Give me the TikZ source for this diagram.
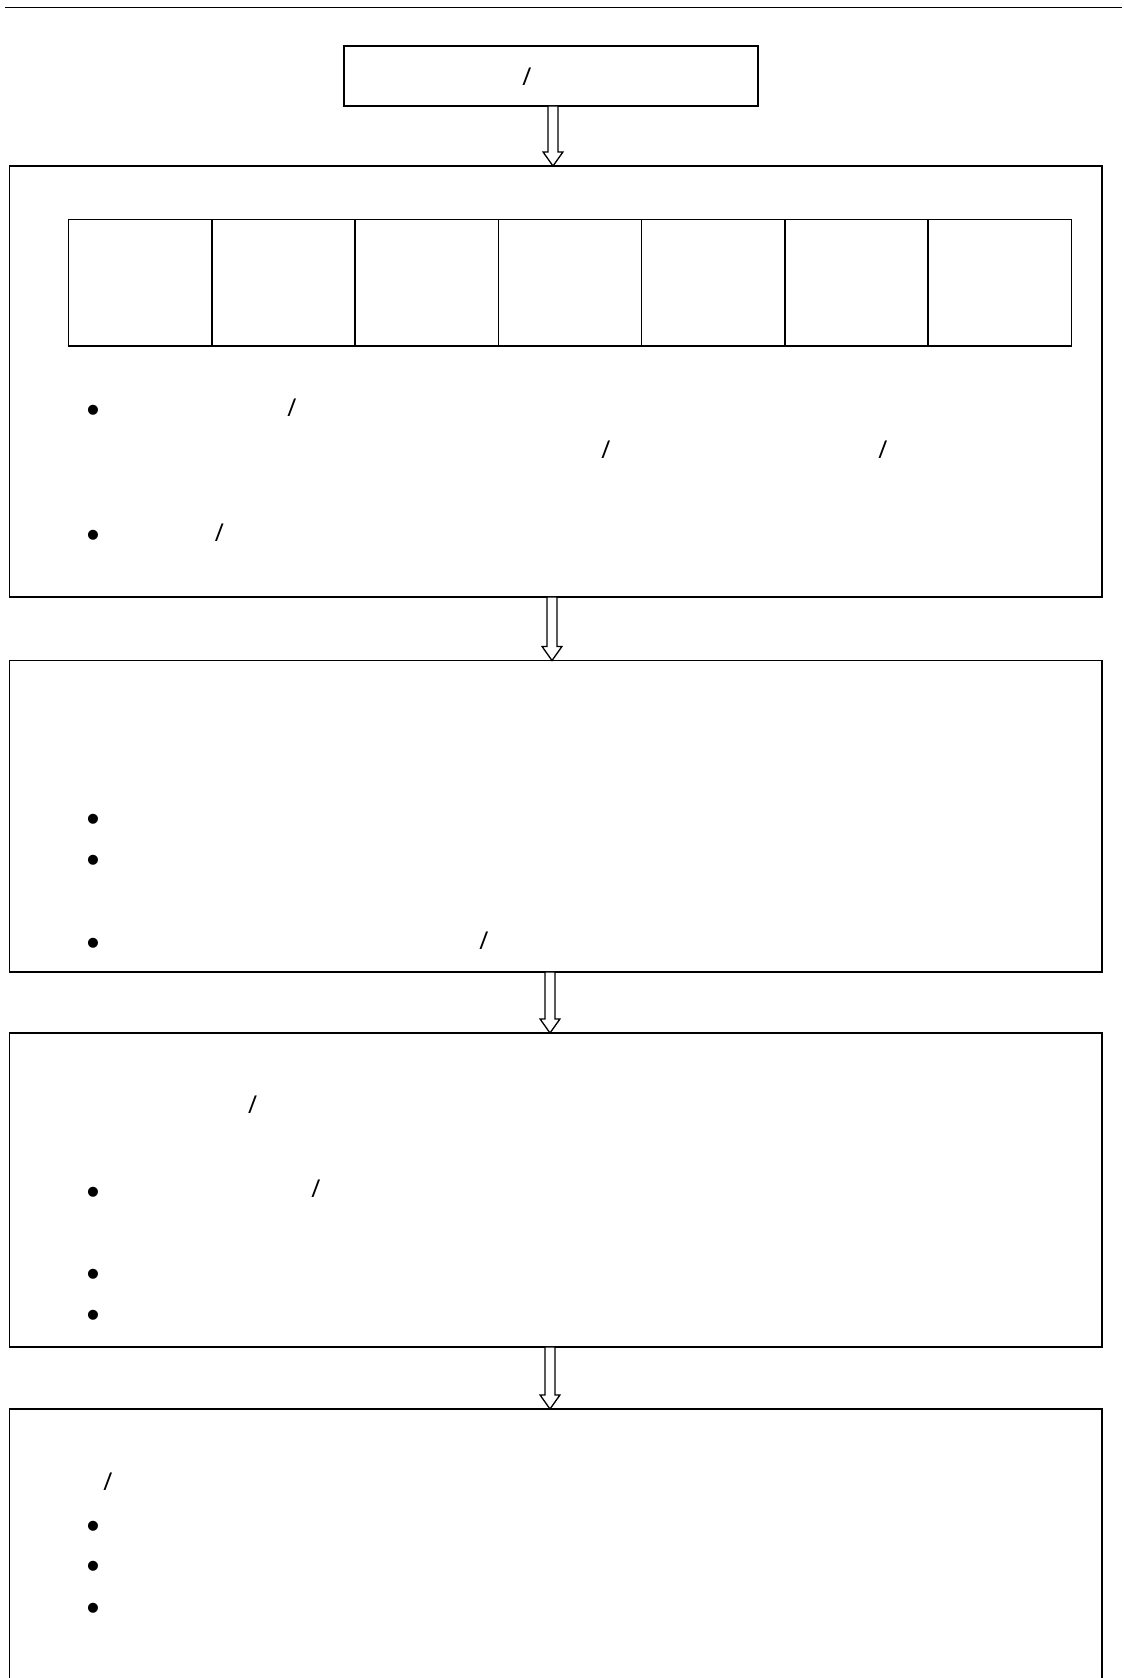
\documentclass[tikz,border=0pt]{standalone}
\usepackage{fontspec}
\setmainfont{Liberation Sans}
\newfontfamily\slashfont{Open Sans}
\usetikzlibrary{positioning,calc}
\tikzset{
  panel/.style={draw=black,line width=.9pt,inner sep=0pt,outer sep=0pt,minimum width=21.85cm},
  cell/.style={draw=black,line width=.9pt,inner sep=0pt,outer sep=0pt,minimum width=2.866cm,minimum height=2.526cm},
  glyph/.style={inner sep=0pt,font=\slashfont\fontsize{14}{16}\selectfont},
  dot/.style={inner sep=0pt,font=\fontsize{21}{22}\selectfont},
  hollow/.style={draw=black,line width=.75pt,fill=white,line join=miter}
}
\newcommand{\hollowarrow}[3]{%
  \draw[hollow] let \p1=(#1,0 |- #2.south), \p2=(#1,0 |- #3.north) in
    (\x1-2.83pt,\y1) -- (\x1+2.83pt,\y1) -- (\x1+2.83pt,\y2+8pt) -- (\x1+5.67pt,\y2+8pt)
    -- (\x2,\y2) -- (\x1-5.67pt,\y2+8pt) -- (\x1-2.83pt,\y2+8pt) -- cycle;}

\begin{document}
\begin{tikzpicture}[x=0.02cm,y=-0.02cm]
  \useasboundingbox (0,0) rectangle (1124,1678);
  \coordinate (rulel) at (5,7.3);
  \coordinate (ruler) at (1122,7.3);
  \draw[line width=.9pt] (rulel) -- (ruler);

  % start
  \node[panel,minimum width=8.28cm,minimum height=1.2cm,anchor=north west] (start) at (344,46) {};
  \node[glyph] (s0) at (527,77) {/};

  % stage 1 with seven cells
  \node[panel,minimum height=8.62cm,anchor=north west] (stage1) at (9.6,166) {};
  \node[cell,anchor=north west] (cell1) at (68.5,219.5) {};
  \foreach \i [remember=\i as \j (initially 1)] in {2,...,7}
    \node[cell,right=0pt of cell\j] (cell\i) {};
  \node[dot] (b11) at (93,414) {•};
  \node[glyph] (s11) at (292,408) {/};
  \node[glyph] (s12) at (606,449.5) {/};
  \node[glyph] (s13) at (883,449.5) {/};
  \node[dot] (b12) at (93,539) {•};
  \node[glyph] (s14) at (219.5,533) {/};

  % stage 2
  \node[panel,minimum height=6.23cm,anchor=north west] (stage2) at (9.6,660.5) {};
  \node[dot] (b21) at (93,823) {•};
  \node[dot] (b22) at (93,864) {•};
  \node[dot] (b23) at (93,947) {•};
  \node[glyph] (s21) at (484,941) {/};

  % stage 3
  \node[panel,minimum height=6.28cm,anchor=north west] (stage3) at (9.6,1033) {};
  \node[glyph] (s31) at (252.6,1105) {/};
  \node[dot] (b31) at (93,1195.5) {•};
  \node[glyph] (s32) at (316,1189) {/};
  \node[dot] (b32) at (93,1278) {•};
  \node[dot] (b33) at (93,1319) {•};

  % stage 4
  \node[panel,minimum height=6.2cm,anchor=north west] (stage4) at (9.6,1409) {};
  \node[glyph] (s41) at (108,1481.6) {/};
  \node[dot] (b41) at (93,1529.5) {•};
  \node[dot] (b42) at (93,1570) {•};
  \node[dot] (b43) at (93,1612) {•};

  \hollowarrow{553}{start}{stage1}
  \hollowarrow{552}{stage1}{stage2}
  \hollowarrow{550}{stage2}{stage3}
  \hollowarrow{550}{stage3}{stage4}
\end{tikzpicture}
\end{document}
